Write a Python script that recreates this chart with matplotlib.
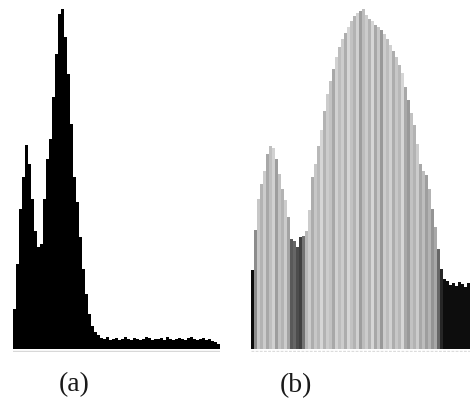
import numpy as np
import matplotlib
matplotlib.use("Agg")
import matplotlib.pyplot as plt

# histogram (a): bin counts, 3 px bins
hist_a = [40, 85, 140, 172, 204, 185, 150, 118, 102, 105,
          150, 190, 210, 252, 295, 335, 340, 312, 275, 225,
          172, 147, 112, 80, 55, 35, 23, 17, 14,
          11, 10, 12, 9, 10, 11, 9, 10, 12, 10,
          9, 11, 10, 9, 10, 12, 11, 9, 10, 10,
          11, 9, 12, 10, 9, 10, 11, 10, 9, 11,
          12, 10, 9, 10, 11, 9, 10, 8,
          7, 5]

# histogram (b): equalised counts
hist_b = [79, 119, 150, 165, 178, 195, 203, 201, 190, 175,
          160, 149, 132, 110, 108, 102, 112, 113, 118, 139,
          172, 185, 203, 219, 238, 255, 268, 280, 292, 302,
          310, 316, 322, 328, 333, 336, 338, 340, 334, 330,
          328, 324, 322, 319, 315, 310, 304, 298, 292, 284,
          276, 262, 249, 236, 224, 205, 185, 178, 174, 160,
          140, 122, 100, 80, 70, 68, 64, 66, 63, 67,
          65, 62, 66, 64, 65]

# gray level of each bar in (b)
gray_b = [0.05, 0.55, 0.78, 0.70, 0.80, 0.66, 0.75, 0.82, 0.62, 0.76,
          0.70, 0.80, 0.64, 0.35, 0.40, 0.30, 0.25, 0.45, 0.72, 0.80,
          0.68, 0.78, 0.72, 0.84, 0.70, 0.80, 0.76, 0.66, 0.82, 0.74,
          0.80, 0.68, 0.84, 0.76, 0.70, 0.82, 0.62, 0.74, 0.80, 0.70,
          0.84, 0.66, 0.78, 0.60, 0.80, 0.74, 0.82, 0.68, 0.78, 0.72,
          0.84, 0.66, 0.60, 0.76, 0.70, 0.80, 0.66, 0.74, 0.62, 0.70,
          0.58, 0.66, 0.40, 0.15, 0.05, 0.05, 0.05, 0.05, 0.05, 0.05,
          0.05, 0.05, 0.05, 0.05, 0.05]

labels = ["(a)", "(b)"]

W, H = 470, 416
fig = plt.figure(figsize=(W / 100, H / 100), dpi=100)
fig.patch.set_facecolor("white")

base = 352
ytop = 345
bin_px = 3

# panel (a)
ax_a = fig.add_axes([13 / W, (H - base) / H, len(hist_a) * bin_px / W, ytop / H])
ax_a.stairs(hist_a, np.arange(len(hist_a) + 1), fill=True, color="black")
ax_a.axhline(-1.5, color="#d8d8d8", linewidth=1)
ax_a.set_xlim(0, len(hist_a))
ax_a.set_ylim(-3, ytop - 3)
ax_a.axis("off")

# panel (b)
ax_b = fig.add_axes([251 / W, (H - base) / H, len(hist_b) * bin_px / W, ytop / H])
ax_b.bar(np.arange(len(hist_b)), hist_b, width=1.0, align="edge",
         color=[str(g) for g in gray_b], linewidth=0, antialiased=False)
ax_b.axhline(-1.5, color="#dcdcdc", linewidth=1, linestyle=(0, (2, 1)))
ax_b.set_xlim(0, len(hist_b))
ax_b.set_ylim(-3, ytop - 3)
ax_b.axis("off")

fig.text(74 / W, 1 - 385 / H, labels[0], family="Liberation Serif",
         fontsize=20, ha="center", va="center", color="#1a1a1a")
fig.text(296 / W, 1 - 386 / H, labels[1], family="Liberation Serif",
         fontsize=20, ha="center", va="center", color="#1a1a1a")

fig.savefig("out.png", dpi=100)
